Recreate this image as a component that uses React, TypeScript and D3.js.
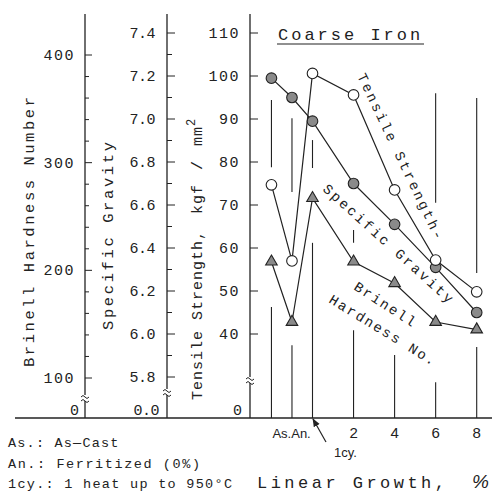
import React from "react";
import * as d3 from "d3";

const width = 496;
const height = 492;

// x positions on the linear-growth axis (As and An sit left of 0 %)
const categories = ["As", "An", "1cy", "2", "4", "6", "8"];
const growth = [-2, -1, 0, 2, 4, 6, 8];

const tensile = [74.7, 57.0, 100.6, 95.6, 73.5, 57.2, 49.8];
const gravity = [7.19, 7.1, 6.99, 6.7, 6.51, 6.31, 6.1];
const hardness = [208, 152, 267, 208, 188, 152, 145];

// scatter bands (tensile units) and lower drop lines down to the base line
const scatterBand = [[94.4, 78.8], [90.2, 73.0], [85.1, 78.6], [64.2, 61.2], null, [96.0, 70.5], [94.9, 54.2]];
const dropTop = [46.3, 37.4, 61.2, 40.9, 35.1, 28.8, 37.0];

const hardnessLabels = [100, 200, 300, 400];
const hardnessMinor = [100, 120, 140, 160, 180, 200, 220, 240, 260, 280, 300, 320, 340, 360, 380, 400];
const gravityLabels = [5.8, 6.0, 6.2, 6.4, 6.6, 6.8, 7.0, 7.2, 7.4];
const gravityMinor = [5.8, 5.9, 6.0, 6.1, 6.2, 6.3, 6.4, 6.5, 6.6, 6.7, 6.8, 6.9, 7.0, 7.1, 7.2, 7.3, 7.4];
const tensileLabels = [40, 50, 60, 70, 80, 90, 100, 110];
const xLabels = ["2", "4", "6", "8"];

const baseY = 418;
const axTop = 14;
const hbX = 85;
const sgX = 167;
const tsX = 250;

const ink = "#222";
const mono = "'Liberation Mono', 'DejaVu Sans Mono', monospace";
const sans = "'Liberation Sans', Arial, sans-serif";

const x = d3.scaleLinear().domain([0, 8]).range([312.5, 476.7]);
const hbY = d3.scaleLinear().domain([100, 400]).range([378, 55]);
const sgY = d3.scaleLinear().domain([5.8, 7.4]).range([377, 33]);
const tsY = d3.scaleLinear().domain([40, 110]).range([334, 33]);

const Break = ({ cx, cy }) => (
  <g fill="none" stroke={ink} strokeWidth={1}>
    <rect x={cx - 4} y={cy - 3} width={8} height={6} fill="#fff" stroke="none" />
    <path d={`M${cx - 4},${cy - 1} q2,-3 4,0 t4,0`} />
    <path d={`M${cx - 4},${cy + 3} q2,-3 4,0 t4,0`} />
  </g>
);

export default function App() {
  const tsLine = d3.line().x((d, i) => x(growth[i])).y(d => tsY(d));
  const sgLine = d3.line().x((d, i) => x(growth[i])).y(d => sgY(d));
  const hbLine = d3.line().x((d, i) => x(growth[i])).y(d => hbY(d));
  const tri = d3.symbol().type(d3.symbolTriangle).size(58)();

  return (
    <svg width={width} height={height} style={{ position: "absolute", left: 0, top: 0, background: "#fff" }}>
      {/* base line */}
      <line x1={15} x2={492} y1={baseY} y2={baseY} stroke={ink} strokeWidth={1.4} />

      {/* Brinell axis */}
      <line x1={hbX} x2={hbX} y1={axTop} y2={baseY} stroke={ink} strokeWidth={1.3} />
      {hardnessMinor.map(v => (
        <line key={v} x1={hbX} x2={hbX + (v % 100 === 0 ? 7 : 4)} y1={hbY(v)} y2={hbY(v)} stroke={ink} />
      ))}
      {hardnessLabels.map(v => (
        <text key={v} x={75} y={hbY(v) + 5} textAnchor="end" fontFamily={mono} fontSize={15} letterSpacing={1.5} fill={ink}>{v}</text>
      ))}
      <text x={79} y={415} textAnchor="end" fontFamily={mono} fontSize={15} fill={ink}>0</text>
      <Break cx={hbX} cy={398} />
      <text transform={`translate(34,232) rotate(-90)`} textAnchor="middle" fontFamily={mono} fontSize={15.5} textLength={270} lengthAdjust="spacing" fill={ink}>Brinell Hardness Number</text>

      {/* Specific gravity axis */}
      <line x1={sgX} x2={sgX} y1={axTop} y2={baseY} stroke={ink} strokeWidth={1.3} />
      {gravityMinor.map((v, i) => (
        <line key={v} x1={sgX} x2={sgX + (i % 2 === 0 ? 8 : 5)} y1={sgY(v)} y2={sgY(v)} stroke={ink} />
      ))}
      {gravityLabels.map(v => (
        <text key={v} x={155} y={sgY(v) + 5} textAnchor="end" fontFamily={mono} fontSize={15} letterSpacing={-0.5} fill={ink}>{v.toFixed(1)}</text>
      ))}
      <text x={159} y={415} textAnchor="end" fontFamily={mono} fontSize={15} letterSpacing={-0.5} fill={ink}>0.0</text>
      <Break cx={sgX} cy={392} />
      <text transform={`translate(113,236) rotate(-90)`} textAnchor="middle" fontFamily={mono} fontSize={15.5} textLength={188} lengthAdjust="spacing" fill={ink}>Specific Gravity</text>

      {/* Tensile strength axis */}
      <line x1={tsX} x2={tsX} y1={axTop} y2={baseY} stroke={ink} strokeWidth={1.3} />
      {tensileLabels.map(v => (
        <line key={v} x1={tsX} x2={tsX + 8} y1={tsY(v)} y2={tsY(v)} stroke={ink} />
      ))}
      {tensileLabels.map(v => (
        <text key={v} x={240} y={tsY(v) + 5} textAnchor="end" fontFamily={mono} fontSize={15} letterSpacing={1.5} fill={ink}>{v}</text>
      ))}
      <text x={242} y={415} textAnchor="end" fontFamily={mono} fontSize={15} fill={ink}>0</text>
      <Break cx={tsX} cy={380} />
      <text transform={`translate(202,400) rotate(-90)`} fontFamily={mono} fontSize={15} letterSpacing={1} fill={ink}>
        Tensile Strength,
        <tspan dx={16}>kgf</tspan>
        <tspan dx={14}>/</tspan>
        <tspan dx={14}>mm</tspan>
        <tspan dy={-7} fontSize={12}>2</tspan>
      </text>

      {/* title */}
      <text x={278} y={40} fontFamily={mono} fontSize={17} letterSpacing={3} fill={ink}>Coarse Iron</text>
      <line x1={277} x2={424} y1={44} y2={44} stroke={ink} strokeWidth={1.2} />

      {/* drop lines / x ticks */}
      {growth.map((g, i) => (
        <line key={"d" + i} x1={x(g)} x2={x(g)} y1={tsY(dropTop[i])} y2={baseY} stroke={ink} strokeWidth={1.1} />
      ))}
      {scatterBand.map((b, i) => b && (
        <line key={"s" + i} x1={x(growth[i])} x2={x(growth[i])} y1={tsY(b[0])} y2={tsY(b[1])} stroke={ink} strokeWidth={1.1} />
      ))}

      {/* series */}
      <path d={tsLine(tensile)} fill="none" stroke={ink} strokeWidth={1.2} />
      <path d={sgLine(gravity)} fill="none" stroke={ink} strokeWidth={1.2} />
      <path d={hbLine(hardness)} fill="none" stroke={ink} strokeWidth={1.2} />
      {gravity.map((v, i) => (
        <circle key={"g" + i} cx={x(growth[i])} cy={sgY(v)} r={5.3} fill="#8a8a8a" stroke={ink} strokeWidth={1.1} />
      ))}
      {tensile.map((v, i) => (
        <circle key={"t" + i} cx={x(growth[i])} cy={tsY(v)} r={5.3} fill="#fff" stroke={ink} strokeWidth={1.1} />
      ))}
      {hardness.map((v, i) => (
        <path key={"h" + i} d={tri} transform={`translate(${x(growth[i])},${hbY(v)})`} fill="#8a8a8a" stroke={ink} strokeWidth={1.1} />
      ))}

      {/* in-plot labels */}
      <text transform="translate(357,76) rotate(64.5)" fontFamily={mono} fontSize={14} textLength={182} lengthAdjust="spacing" fill={ink}>Tensile Strength-</text>
      <text transform="translate(322,190) rotate(42)" fontFamily={mono} fontSize={14} textLength={170} lengthAdjust="spacing" fill={ink}>Specific Gravity</text>
      <text transform="translate(353,289) rotate(33)" fontFamily={mono} fontSize={14} textLength={70} lengthAdjust="spacing" fill={ink}>Brinell</text>
      <text transform="translate(328,302) rotate(31.5)" fontFamily={mono} fontSize={14} textLength={122} lengthAdjust="spacing" fill={ink}>Hardness No.</text>

      {/* x labels */}
      <text x={x(-2) + 1} y={438} fontFamily={sans} fontSize={13} fill={ink}>As.An.</text>
      {xLabels.map(l => (
        <text key={l} x={x(+l)} y={438} textAnchor="middle" fontFamily={sans} fontSize={15} fill={ink}>{l}</text>
      ))}
      <text x={334} y={457} fontFamily={sans} fontSize={13} fill={ink}>1cy.</text>
      <defs>
        <marker id="ah" viewBox="0 0 10 10" refX={9} refY={5} markerWidth={7} markerHeight={7} orient="auto">
          <path d="M0,1 L10,5 L0,9 z" fill={ink} />
        </marker>
      </defs>
      <line x1={326} y1={442} x2={x(0) + 0.5} y2={baseY + 1} stroke={ink} strokeWidth={1.2} markerEnd="url(#ah)" />

      {/* notes */}
      <text x={8} y={447} fontFamily={mono} fontSize={13.5} letterSpacing={1.2} fill={ink}>As.: As—Cast</text>
      <text x={8} y={468} fontFamily={mono} fontSize={13.5} textLength={192} lengthAdjust="spacing" fill={ink}>An.: Ferritized (0%)</text>
      <text x={8} y={488} fontFamily={mono} fontSize={13.5} textLength={224} lengthAdjust="spacing" fill={ink}>1cy.: 1 heat up to 950°C</text>
      <text x={257} y={488} fontFamily={mono} fontSize={17} textLength={188} lengthAdjust="spacing" fill={ink}>Linear Growth,</text>
      <text x={472} y={488} fontFamily={sans} fontSize={19} fontStyle="italic" fill={ink}>%</text>
    </svg>
  );
}
